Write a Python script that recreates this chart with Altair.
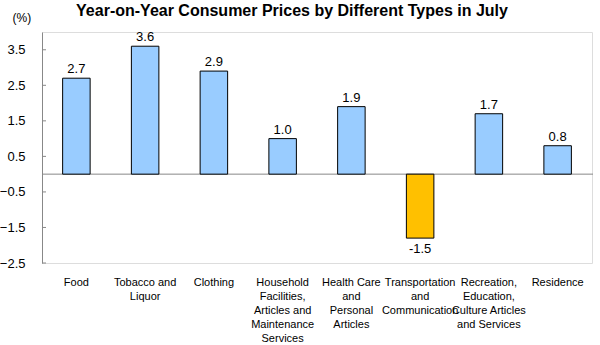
import altair as alt
import pandas as pd

categories = [
    "Food",
    "Tobacco and\nLiquor",
    "Clothing",
    "Household\nFacilities,\nArticles and\nMaintenance\nServices",
    "Health Care\nand\nPersonal\nArticles",
    "Transportation\nand\nCommunication",
    "Recreation,\nEducation,\nCulture Articles\nand Services",
    "Residence",
]
values = [2.7, 3.6, 2.9, 1.0, 1.9, -1.8, 1.7, 0.8]
value_labels = ["2.7", "3.6", "2.9", "1.0", "1.9", "-1.5", "1.7", "0.8"]
y_ticks = [-2.5, -1.5, -0.5, 0.5, 1.5, 2.5, 3.5]
title_text = ["Year-on-Year Consumer Prices by Different  Types in July"]

df = pd.DataFrame({"cat": categories, "v": values, "lab": value_labels})
ticks_df = pd.DataFrame({"t": y_ticks})

FONT = "Liberation Sans"
yscale = alt.Scale(domain=[-2.5, 4.0], nice=False, zero=False)
xscale = alt.Scale(paddingInner=0.6, paddingOuter=0.3)
xaxis = alt.Axis(
    title=None,
    domain=False,
    ticks=False,
    labelAngle=0,
    labelPadding=13,
    labelFont=FONT,
    labelFontSize=11,
    labelColor="#000000",
    labelLineHeight=14,
    labelBaseline="top",
    labelOverlap=False,
    labelExpr="split(datum.label, '\\n')",
)
yaxis = alt.Axis(
    values=y_ticks,
    format=".1f",
    title="(%)",
    titleAngle=0,
    titleX=-30,
    titleY=-15,
    titleAlign="left",
    titleBaseline="middle",
    titleFont=FONT,
    titleFontSize=12,
    titleFontWeight="normal",
    titleColor="#000000",
    grid=False,
    ticks=False,
    domainColor="#888888",
    labelFont=FONT,
    labelFontSize=13,
    labelColor="#000000",
    labelPadding=17,
    labelOverlap=False,
    labelBound=False,
    labelFlush=False,
)
xenc = alt.X("cat:N", sort=categories, scale=xscale, axis=xaxis)


def yenc(field):
    return alt.Y(field, scale=yscale, axis=yaxis, title="(%)")


bars = alt.Chart(df).mark_bar(stroke="#000000", strokeWidth=1).encode(
    x=xenc,
    y=yenc("v:Q"),
    y2=alt.datum(0),
    color=alt.condition("datum.v >= 0", alt.value("#99CCFF"), alt.value("#FFC000")),
)

tickmarks = alt.Chart(ticks_df).mark_rule(color="#888888", strokeWidth=1).encode(
    y=yenc("t:Q"),
    x=alt.value(0),
    x2=alt.value(4),
)

zero = alt.Chart(pd.DataFrame({"z": [0]})).mark_rule(color="#888888", strokeWidth=1).encode(
    y=yenc("z:Q"),
    x=alt.value(0),
    x2=alt.value(551),
)

pos_labels = alt.Chart(df).transform_filter("datum.v >= 0").mark_text(
    baseline="bottom", dy=-2, font=FONT, fontSize=13, color="#000000"
).encode(x=xenc, y=yenc("v:Q"), text="lab:N")

neg_labels = alt.Chart(df).transform_filter("datum.v < 0").mark_text(
    baseline="top", dy=5, font=FONT, fontSize=13, color="#000000"
).encode(x=xenc, y=yenc("v:Q"), text="lab:N")

title = alt.Chart(pd.DataFrame({"t": title_text})).mark_text(
    align="center", baseline="alphabetic", font=FONT, fontSize=16,
    fontWeight="bold", color="#000000"
).encode(text="t:N", x=alt.value(250), y=alt.value(-16))

chart = (
    alt.layer(zero, bars, tickmarks, pos_labels, neg_labels, title)
    .properties(
        width=550,
        height=231,
        autosize=alt.AutoSizeParams(type="none"),
        padding={"left": 42, "top": 32, "right": 8, "bottom": 82},
    )
    .configure_view(stroke=None)
    .configure(background="#ffffff")
)

chart.save("out.html", embed_options={"renderer": "svg", "actions": False})
